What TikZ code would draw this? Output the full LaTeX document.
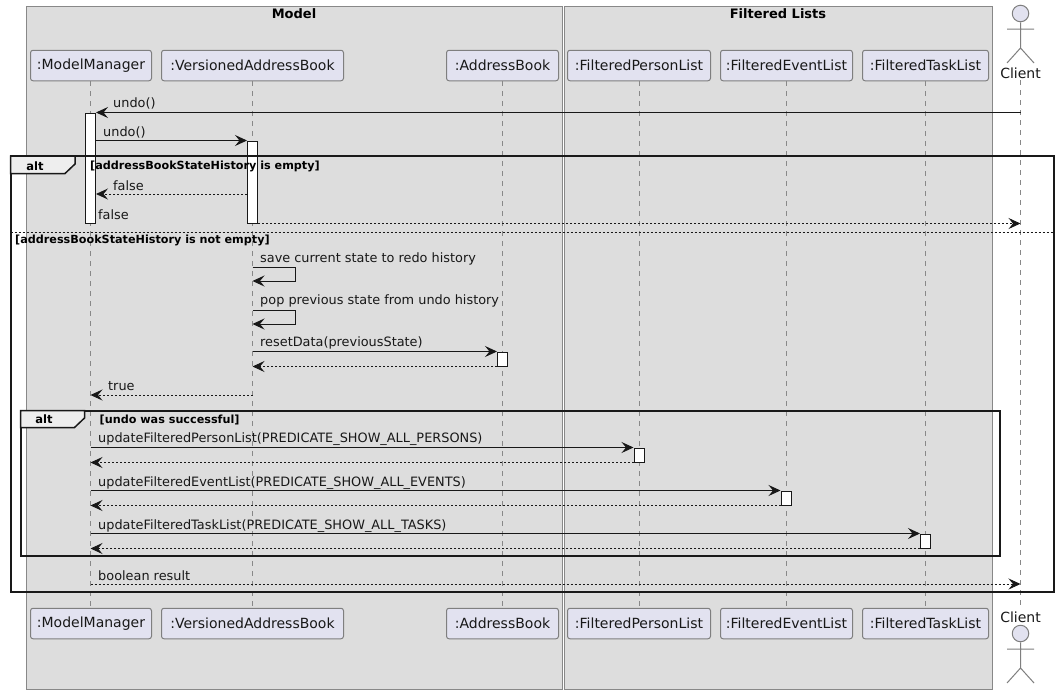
\documentclass[tikz,border=0pt]{standalone}
\usepackage{fontspec}
\setmainfont{DejaVu Sans}
\usetikzlibrary{arrows.meta}
\definecolor{boxbg}{HTML}{DDDDDD}
\definecolor{boxline}{HTML}{888888}
\definecolor{partbg}{HTML}{E2E2F0}
\definecolor{partline}{HTML}{7F7F7F}
\definecolor{ink}{HTML}{181818}
\definecolor{tabbg}{HTML}{EEEEEE}
\tikzset{
  x=1pt,y=-1pt,
  msgtip/.tip={Stealth[length=12pt,width=11pt,inset=4.5pt,ink]},
  msg/.style={draw=ink,line width=1pt,-msgtip},
  ret/.style={draw=ink,line width=.9pt,dash pattern=on 2pt off 2pt,-msgtip},
  life/.style={draw=boxline,line width=1pt,dash pattern=on 5pt off 5pt},
  part/.style={draw=partline,fill=partbg,line width=1pt,rounded corners=2.5pt,minimum height=30.5pt,inner sep=0pt,font=\fontsize{14}{16}\selectfont,text=ink},
  grp/.style={draw=boxline,fill=boxbg,line width=1pt},
  act/.style={draw=ink,fill=white,line width=1pt,minimum width=10pt,inner sep=0pt},
  lab/.style={anchor=west,inner sep=0pt,font=\fontsize{12.87}{15}\selectfont,text=ink},
  guard/.style={anchor=west,inner sep=0pt,font=\fontsize{11.2}{13}\selectfont\bfseries,text=black},
  alttxt/.style={anchor=center,inner sep=0pt,font=\fontsize{11.5}{14}\selectfont\bfseries,text=black},
  frm/.style={draw=black!90,line width=2pt},
  tab/.style={draw=black!90,line width=1.5pt,fill=tabbg},
  title/.style={anchor=center,inner sep=0pt,font=\fontsize{13}{15}\selectfont\bfseries,text=black},
  stick/.style={draw=partline,line width=1pt},
  head/.style={draw=partline,fill=partbg,line width=1pt,circle,minimum size=16.5pt,inner sep=0pt},
  actname/.style={anchor=center,inner sep=0pt,font=\fontsize{14}{16}\selectfont,text=ink},
}
\begin{document}
\begin{tikzpicture}
\useasboundingbox (0,0) rectangle (1059,694);
\fill[white] (0,0) rectangle (1059,694);
% boxes
\draw[grp] (26.5,6.5) rectangle (562.5,689.5);
\draw[grp] (564.5,6.5) rectangle (992.5,689.5);
\node[title] (tModel) at (294,14) {Model};
\node[title] (tFiltered) at (778,14) {Filtered Lists};
% participants
\foreach \n/\l/\r/\t in {mm/30.5/151.5/:ModelManager,vab/161.5/343.5/:VersionedAddressBook,ab/446.5/558.5/:AddressBook,fp/567.5/710.5/:FilteredPersonList,fe/720.5/852.5/:FilteredEventList,ft/862.5/988.5/:FilteredTaskList}{
  \pgfmathsetmacro\w{\r-\l}
  \pgfmathsetmacro\c{(\r+\l)/2}
  \node[part,minimum width=\w pt] (\n T) at (\c,65.5) {\t};
  \node[part,minimum width=\w pt] (\n B) at (\c,623.5) {\t};
}
% actors
\node[head] (cHeadT) at (1020.5,13.5) {};
\coordinate (cNeckT) at (1020.5,48);
\coordinate (cArmLT) at (1007,29);
\coordinate (cArmRT) at (1034,29);
\coordinate (cLegLT) at (1007,63);
\coordinate (cLegRT) at (1034,63);
\draw[stick] (cHeadT.south) -- (cNeckT) (cArmLT) -- (cArmRT) (cLegLT) -- (cNeckT) -- (cLegRT);
\node[actname] (cT) at (1020.5,73) {Client};
\node[actname] (cB) at (1020.5,617) {Client};
\node[head] (cHeadB) at (1020.5,633.5) {};
\coordinate (cNeckB) at (1020.5,668);
\coordinate (cArmLB) at (1007,649);
\coordinate (cArmRB) at (1034,649);
\coordinate (cLegLB) at (1007,683);
\coordinate (cLegRB) at (1034,683);
\draw[stick] (cHeadB.south) -- (cNeckB) (cArmLB) -- (cArmRB) (cLegLB) -- (cNeckB) -- (cLegRB);
% lifelines
\coordinate (mmX) at (90.5,0);
\coordinate (vabX) at (252.5,0);
\coordinate (abX) at (502.5,0);
\coordinate (fpX) at (639,0);
\coordinate (feX) at (786,0);
\coordinate (ftX) at (925.5,0);
\coordinate (cX) at (1020.5,0);
\foreach \n in {mm,vab,ab,fp,fe,ft}{
  \draw[life] (\n X |- \n T.south) -- (\n X |- \n B.north);
}
\draw[life] (cX |- 0,80) -- (cX |- 0,608);
% activations
\node[act,minimum height=110pt] (aMM) at (90.5,168) {};
\node[act,minimum height=82pt] (aVAB) at (252.5,182) {};
\node[act,minimum height=14pt] (aAB) at (502.5,359) {};
\node[act,minimum height=14pt] (aFP) at (639,455) {};
\node[act,minimum height=14pt] (aFE) at (786,498) {};
\node[act,minimum height=14pt] (aFT) at (925.5,541) {};
% frames
\draw[frm] (10.5,156) rectangle (1053.5,592);
\draw[frm] (20.5,410.5) rectangle (999.5,556);
% separator
\coordinate (sepL) at (10.5,232.5);
\coordinate (sepR) at (1053.5,232.5);
\draw[draw=ink,line width=1pt,dash pattern=on 2pt off 2pt] (sepL) -- (sepR);
% tabs
\draw[tab] (10.5,156) -- (75,156) -- (75,164) -- (65,173.5) -- (10.5,173.5) -- cycle;
\node[alttxt] (altA) at (35,166) {alt};
\draw[tab] (20.5,410.5) -- (84.5,410.5) -- (84.5,418) -- (74.5,427.5) -- (20.5,427.5) -- cycle;
\node[alttxt] (altB) at (44,419) {alt};
% guards
\node[guard] (g1) at (90,166) {[addressBookStateHistory is empty]};
\node[guard] (g2) at (15,240) {[addressBookStateHistory is not empty]};
\node[guard] (g3) at (99.5,420) {[undo was successful]};
% messages
\draw[msg] (cX |- aMM.north) -- (aMM.north east);
\node[lab] at (113,103) {undo()};
\draw[msg] (aMM.east |- aVAB.north) -- (aVAB.north west);
\node[lab] at (103,132) {undo()};
\draw[ret] (aVAB.west |- 0,194) -- (aMM.east |- 0,194);
\node[lab] at (113,186) {false};
\draw[ret] (aVAB.south east) -- (cX |- aVAB.south);
\node[lab] at (98,215) {false};
\draw[msg] (vabX |- 0,267) -- (295,267) -- (295,281) -- (vabX |- 0,281);
\node[lab] at (260,259) {save current state to redo history};
\draw[msg] (vabX |- 0,310) -- (295,310) -- (295,324) -- (vabX |- 0,324);
\node[lab] at (260,301) {pop previous state from undo history};
\draw[msg] (vabX |- aAB.north) -- (aAB.north west);
\node[lab] at (260,343) {resetData(previousState)};
\draw[ret] (aAB.south west) -- (vabX |- aAB.south);
\draw[ret] (vabX |- 0,395) -- (mmX |- 0,395);
\node[lab] at (108,386) {true};
\draw[msg] (mmX |- aFP.north) -- (aFP.north west);
\node[lab] at (98,439) {updateFilteredPersonList(PREDICATE\_SHOW\_ALL\_PERSONS)};
\draw[ret] (aFP.south west) -- (mmX |- aFP.south);
\draw[msg] (mmX |- aFE.north) -- (aFE.north west);
\node[lab] at (98,483) {updateFilteredEventList(PREDICATE\_SHOW\_ALL\_EVENTS)};
\draw[ret] (aFE.south west) -- (mmX |- aFE.south);
\draw[msg] (mmX |- aFT.north) -- (aFT.north west);
\node[lab] at (98,526) {updateFilteredTaskList(PREDICATE\_SHOW\_ALL\_TASKS)};
\draw[ret] (aFT.south west) -- (mmX |- aFT.south);
\draw[ret] (mmX |- 0,584) -- (cX |- 0,584);
\node[lab] at (98,576) {boolean result};
\end{tikzpicture}
\end{document}
